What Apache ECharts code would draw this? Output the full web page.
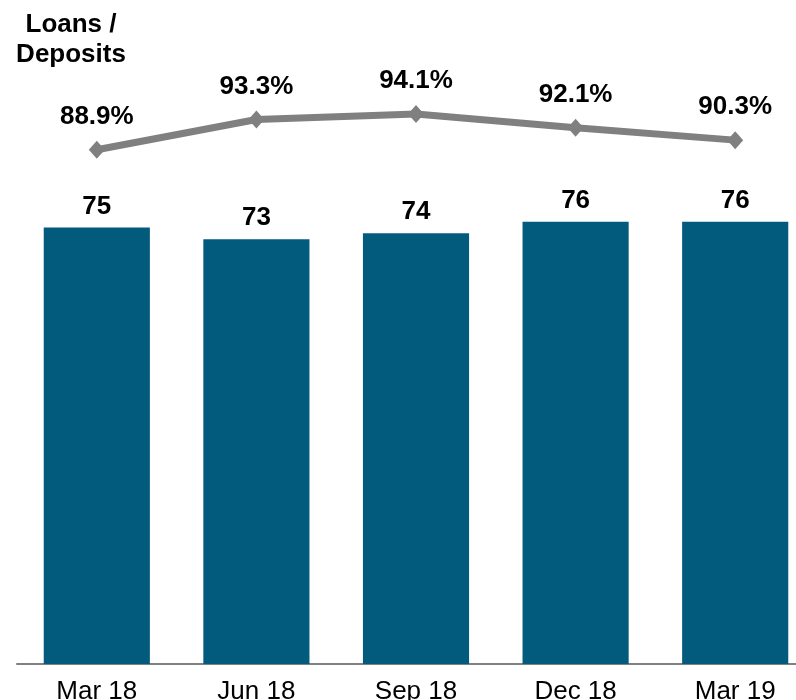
<!DOCTYPE html>
<html>
<head>
<meta charset="utf-8">
<script src="https://cdn.jsdelivr.net/npm/echarts@6/dist/echarts.min.js"></script>
<style>
  html, body { margin: 0; padding: 0; background: #fff; }
  #chart { width: 796px; height: 700px; }
</style>
</head>
<body>
<div id="chart"></div>
<script>
const categories = ['Mar 18', 'Jun 18', 'Sep 18', 'Dec 18', 'Mar 19']
const deposits = [75, 73, 74, 76, 76]
const loansToDeposits = [88.9, 93.3, 94.1, 92.1, 90.3]

const font = '"Liberation Sans", Arial, sans-serif'
const chart = echarts.init(document.getElementById('chart'))

const option = {
    animation: false,
    grid: {
        left: 17,
        width: 798,
        top: 82,
        bottom: 36,
        outerBoundsMode: 'none',
        containLabel: false
    },
    graphic: [
        {
            type: 'text',
            x: 71,
            y: 10,
            style: {
                text: 'Loans /\nDeposits',
                align: 'center',
                fontFamily: font,
                fontSize: 26,
                fontWeight: 'bold',
                lineHeight: 30,
                fill: '#000'
            }
        }
    ],
    xAxis: {
        type: 'category',
        data: categories,
        axisLine: { lineStyle: { color: '#808080', width: 2 } },
        axisTick: { show: false },
        axisLabel: {
            color: '#000',
            fontFamily: font,
            fontSize: 26,
            margin: 15
        }
    },
    yAxis: [
        { type: 'value', min: 0, max: 100, show: false },
        { type: 'value', min: 14.15, max: 98.75, show: false }
    ],
    series: [
        {
            type: 'bar',
            data: deposits,
            yAxisIndex: 0,
            barCategoryGap: '33.5%',
            itemStyle: { color: '#025b7c' },
            label: {
                show: true,
                position: 'top',
                distance: 8,
                color: '#000',
                fontFamily: font,
                fontSize: 26,
                fontWeight: 'bold'
            }
        },
        {
            type: 'line',
            data: loansToDeposits,
            yAxisIndex: 1,
            symbol: 'diamond',
            symbolSize: [16, 18],
            itemStyle: { color: '#808080' },
            lineStyle: { color: '#808080', width: 7 },
            label: {
                show: true,
                position: 'top',
                distance: 11,
                color: '#000',
                fontFamily: font,
                fontSize: 26,
                fontWeight: 'bold',
                formatter: p => p.value.toFixed(1) + '%'
            }
        }
    ]
}

chart.setOption(option)
</script>
</body>
</html>
